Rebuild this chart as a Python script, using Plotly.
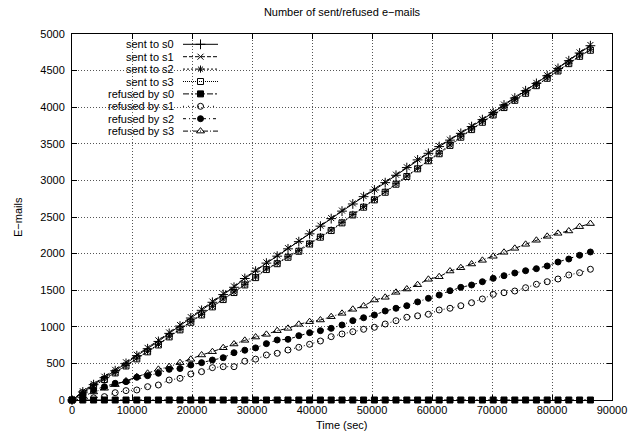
import plotly.graph_objects as go

# ---------------- data ----------------
time_sec = [i * 1800 for i in range(49)]

sent_s0 = [0, 110, 210, 305, 400, 500, 605, 700, 800, 910, 1010, 1120, 1225, 1335, 1440, 1540,
           1660, 1760, 1870, 1965, 2065, 2163, 2270, 2375, 2478, 2580, 2678, 2778, 2869, 2969,
           3070, 3175, 3280, 3370, 3462, 3550, 3643, 3735, 3830, 3925, 4030, 4125, 4225, 4325,
           4430, 4530, 4635, 4740, 4840]
sent_s1 = [0, 120, 220, 318, 412, 515, 618, 712, 815, 922, 1025, 1132, 1238, 1345, 1452, 1552,
           1670, 1772, 1880, 1975, 2075, 2172, 2278, 2382, 2485, 2588, 2686, 2785, 2876, 2975,
           3078, 3180, 3285, 3376, 3468, 3556, 3650, 3742, 3836, 3932, 4036, 4132, 4232, 4332,
           4436, 4538, 4642, 4748, 4850]
sent_s2 = [0, 100, 195, 285, 375, 470, 570, 665, 760, 870, 965, 1070, 1170, 1280, 1380, 1475,
           1580, 1680, 1790, 1870, 1958, 2040, 2140, 2231, 2322, 2427, 2536, 2641, 2741, 2846,
           2955, 3060, 3165, 3275, 3370, 3484, 3597, 3700, 3800, 3900, 4000, 4100, 4195, 4300,
           4400, 4500, 4600, 4700, 4785]
sent_s3 = [0, 95, 190, 280, 370, 465, 562, 658, 752, 862, 958, 1062, 1162, 1272, 1372, 1468,
           1572, 1672, 1782, 1862, 1950, 2032, 2132, 2224, 2315, 2420, 2528, 2634, 2734, 2838,
           2948, 3053, 3158, 3268, 3364, 3478, 3590, 3694, 3794, 3894, 3995, 4094, 4190, 4294,
           4395, 4495, 4595, 4695, 4778]

refused_s0 = [0] * 49
refused_s1 = [0, 15, 30, 46, 100, 128, 137, 182, 205, 273, 296, 355, 387, 442, 455, 455, 530,
              558, 615, 638, 683, 720, 761, 806, 865, 902, 933, 966, 993, 1038, 1083, 1130,
              1150, 1171, 1230, 1253, 1288, 1329, 1380, 1444, 1466, 1489, 1534, 1581, 1616,
              1653, 1708, 1739, 1786]
refused_s2 = [0, 70, 137, 182, 228, 250, 310, 332, 365, 419, 430, 478, 510, 546, 578, 646, 680,
              712, 770, 820, 829, 879, 920, 947, 979, 1025, 1084, 1124, 1161, 1216, 1253, 1288,
              1340, 1389, 1434, 1493, 1539, 1571, 1616, 1662, 1698, 1735, 1766, 1794, 1831,
              1885, 1926, 1977, 2022]
refused_s3 = [0, 55, 110, 160, 210, 260, 318, 365, 419, 455, 510, 556, 615, 660, 714, 765, 815,
              860, 897, 947, 979, 1034, 1070, 1093, 1138, 1184, 1239, 1284, 1366, 1403, 1471,
              1516, 1575, 1649, 1684, 1762, 1807, 1858, 1908, 1963, 2018, 2072, 2127, 2182,
              2236, 2277, 2309, 2368, 2410]

series_names = ["sent to s0", "sent to s1", "sent to s2", "sent to s3",
                "refused by s0", "refused by s1", "refused by s2", "refused by s3"]
series_values = [sent_s0, sent_s1, sent_s2, sent_s3,
                 refused_s0, refused_s1, refused_s2, refused_s3]

x_ticks = [0, 10000, 20000, 30000, 40000, 50000, 60000, 70000, 80000, 90000]
y_ticks = [0, 500, 1000, 1500, 2000, 2500, 3000, 3500, 4000, 4500, 5000]

# ---------------- styles ----------------
styles = [
    dict(dash="solid", symbol="cross-thin-open", size=7),
    dict(dash="4px,2px", symbol="x-thin-open", size=6),
    dict(dash="2px,2px", symbol="asterisk-open", size=6),
    dict(dash="1px,1px", symbol="square-open", size=6),
    dict(dash="6px,2px,2px,2px", symbol="square", size=6),
    dict(dash="1px,4px", symbol="circle-open", size=6),
    dict(dash="3px,3px,1px,3px", symbol="circle", size=6),
    dict(dash="5px,2px,1px,2px", symbol="triangle-up-open", size=7),
]

FONT = "Liberation Sans, Arial, Helvetica, sans-serif"
W, H = 631, 437
L, R, T, B = 72, 19, 34, 37

fig = go.Figure()

for name, vals, st in zip(series_names, series_values, styles):
    fig.add_trace(go.Scatter(
        x=time_sec, y=vals, name=name, mode="lines+markers",
        line=dict(color="black", width=1, dash=st["dash"]),
        marker=dict(symbol=st["symbol"], size=st["size"], color="black",
                    line=dict(color="black", width=1)),
        cliponaxis=False, showlegend=False,
    ))

# ---------------- gnuplot-style key (overlay axis in pixel units) ----------------
key_text_right = 176
key_line = (183, 218)
key_row0 = 44.3
key_step = 12.4
for k, (name, st) in enumerate(zip(series_names, styles)):
    yy = key_row0 + k * key_step
    fig.add_trace(go.Scatter(
        x=list(key_line), y=[yy, yy], mode="lines", xaxis="x2", yaxis="y2",
        line=dict(color="black", width=1, dash=st["dash"]),
        showlegend=False, hoverinfo="skip"))
    fig.add_trace(go.Scatter(
        x=[(key_line[0] + key_line[1]) / 2], y=[yy], mode="markers", xaxis="x2", yaxis="y2",
        marker=dict(symbol=st["symbol"], size=st["size"], color="black",
                    line=dict(color="black", width=1)),
        showlegend=False, hoverinfo="skip"))
    fig.add_annotation(x=key_text_right, y=yy, xref="x2", yref="y2", text=name,
                       showarrow=False, xanchor="right", yanchor="middle",
                       font=dict(family=FONT, size=11, color="black"))

axis_common = dict(
    showline=True, linecolor="black", linewidth=1, mirror="allticks",
    ticks="inside", ticklen=5, tickwidth=1, tickcolor="black",
    showgrid=True, gridcolor="#555555", gridwidth=1, griddash="1px,2px",
    zeroline=False, tickfont=dict(family=FONT, size=11, color="black"),
)

fig.update_layout(
    width=W, height=H,
    margin=dict(l=L, r=R, t=T, b=B),
    paper_bgcolor="white", plot_bgcolor="white",
    title=dict(text="Number of sent/refused e\u2212mails", x=(L + (W - R)) / 2 / W, xanchor="center",
               y=1 - 12 / H, yanchor="middle",
               font=dict(family=FONT, size=11, color="black")),
    xaxis=dict(range=[0, 90000], tickvals=x_ticks, ticktext=[str(v) for v in x_ticks],
               automargin=False, **axis_common),
    yaxis=dict(range=[0, 5000], tickvals=y_ticks, ticktext=[str(v) for v in y_ticks],
               ticklabelstandoff=4, automargin=False, **axis_common),
    xaxis2=dict(range=[L, W - R], overlaying="x", visible=False, fixedrange=True),
    yaxis2=dict(range=[H - B, T], overlaying="y", visible=False, fixedrange=True),
    showlegend=False,
)

fig.add_annotation(x=0.5, y=-25 / (H - T - B), xref="paper", yref="paper",
                   text="Time (sec)", showarrow=False, xanchor="center", yanchor="middle",
                   font=dict(family=FONT, size=11, color="black"))
fig.add_annotation(x=-(L - 18) / (W - L - R), y=0.5, xref="paper", yref="paper",
                   text="E\u2212mails", showarrow=False, textangle=-90,
                   xanchor="center", yanchor="middle",
                   font=dict(family=FONT, size=11, color="black"))

fig.write_html("out.html", config={"displayModeBar": False},
               post_script="document.body.style.margin='0px';document.body.style.overflow='hidden';")
